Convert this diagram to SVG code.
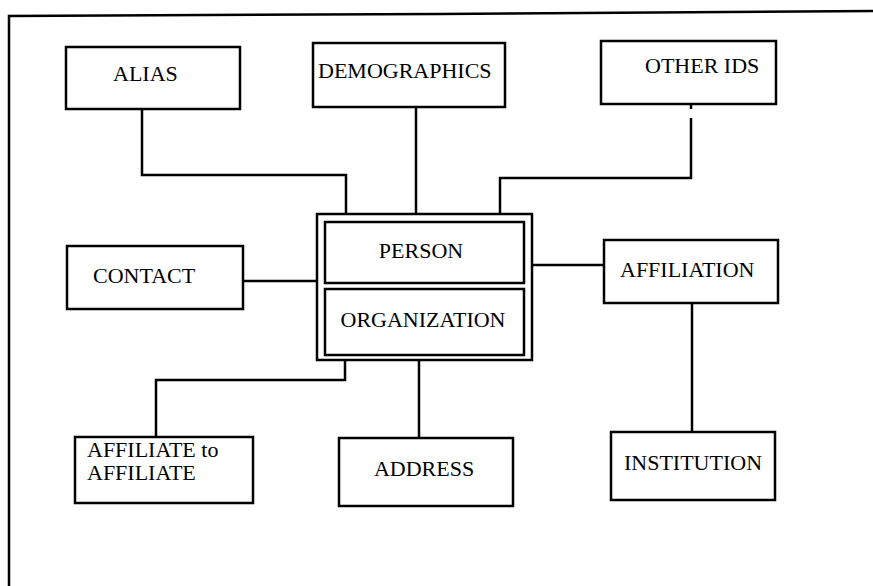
<svg xmlns="http://www.w3.org/2000/svg" width="873" height="586" viewBox="0 0 873 586">
  <style>
    .box { fill: #ffffff; stroke: #000000; stroke-width: 2.5; }
    .wire { fill: none; stroke: #000000; stroke-width: 2.5; }
    .frame { fill: none; stroke: #000000; stroke-width: 2.5; }
    text { font-family: "Liberation Serif", "Times New Roman", serif; font-size: 22px; fill: #000000; }
  </style>
  <rect width="873" height="586" fill="#ffffff"/>

  <!-- page frame -->
  <path class="frame" d="M9 586 V16 L440 14 L873 11"/>

  <!-- connectors -->
  <g id="connectors">
    <path class="wire" d="M142 109 V175 H346 V214"/>
    <path class="wire" d="M416 107 V214"/>
    <path class="wire" d="M691 104 V109"/>
    <path class="wire" d="M691 118 V178 H500 V214"/>
    <path class="wire" d="M243 281 H317"/>
    <path class="wire" d="M532 265 H604"/>
    <path class="wire" d="M692 303 V432"/>
    <path class="wire" d="M345 360 V380 H156 V437"/>
    <path class="wire" d="M419 360 V438"/>
  </g>

  <g id="alias">
    <rect class="box" x="66" y="47" width="174" height="62"/>
    <text x="113" y="81">ALIAS</text>
  </g>

  <g id="demographics">
    <rect class="box" x="313" y="43" width="192" height="64"/>
    <text x="318" y="78">DEMOGRAPHICS</text>
  </g>

  <g id="other-ids">
    <rect class="box" x="601" y="41" width="175" height="63"/>
    <text x="645" y="73">OTHER IDS</text>
  </g>

  <g id="contact">
    <rect class="box" x="67" y="246" width="176" height="63"/>
    <text x="93" y="283">CONTACT</text>
  </g>

  <g id="person-organization">
    <rect class="box" x="317" y="214" width="215" height="146"/>
    <g id="person">
      <rect class="box" x="325" y="222" width="199" height="61"/>
      <text x="421" y="258" text-anchor="middle">PERSON</text>
    </g>
    <g id="organization">
      <rect class="box" x="325" y="289" width="199" height="66"/>
      <text x="423" y="327" text-anchor="middle">ORGANIZATION</text>
    </g>
  </g>

  <g id="affiliation">
    <rect class="box" x="604" y="240" width="174" height="63"/>
    <text x="620" y="277">AFFILIATION</text>
  </g>

  <g id="affiliate-to-affiliate">
    <rect class="box" x="75" y="437" width="178" height="66"/>
    <text x="87" y="457">AFFILIATE to</text>
    <text x="87" y="480">AFFILIATE</text>
  </g>

  <g id="address">
    <rect class="box" x="339" y="438" width="174" height="68"/>
    <text x="424" y="476" text-anchor="middle">ADDRESS</text>
  </g>

  <g id="institution">
    <rect class="box" x="611" y="432" width="164" height="68"/>
    <text x="693" y="470" text-anchor="middle">INSTITUTION</text>
  </g>
</svg>
